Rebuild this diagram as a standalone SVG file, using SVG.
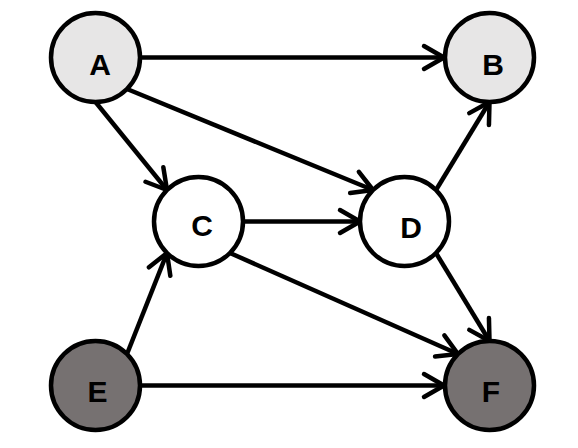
<svg xmlns="http://www.w3.org/2000/svg" width="578" height="448" viewBox="0 0 578 448">
<style>
.node{stroke:#000;stroke-width:4.5}
.light{fill:#e7e6e6}
.white{fill:#fff}
.dark{fill:#767171}
.lbl{font-family:"Liberation Sans",Arial,sans-serif;font-weight:bold;font-size:30px;fill:#000;text-anchor:middle}
.edge{stroke:#000;stroke-width:4.5;fill:none;marker-end:url(#arr)}
</style>
<defs>
<marker id="arr" markerUnits="userSpaceOnUse" viewBox="-26 -16 30 32" refX="0" refY="0" markerWidth="30" markerHeight="32" orient="auto" overflow="visible">
<path d="M-20,-11.5 L0,0 L-20,11.5" fill="none" stroke="#000" stroke-width="4.5" stroke-linecap="round" stroke-linejoin="round"/>
</marker>
</defs>
<g id="connectors">
<line class="edge" x1="140" y1="57.5" x2="444" y2="57.5"/>
<line class="edge" x1="95.5" y1="102" x2="167" y2="190"/>
<line class="edge" x1="127" y1="89" x2="373" y2="190"/>
<line class="edge" x1="243" y1="221.5" x2="360" y2="221.5"/>
<line class="edge" x1="436" y1="190" x2="489.5" y2="102"/>
<line class="edge" x1="127" y1="354" x2="167" y2="253"/>
<line class="edge" x1="140" y1="385.5" x2="444" y2="385.5"/>
<line class="edge" x1="230" y1="253" x2="458" y2="354"/>
<line class="edge" x1="436" y1="253" x2="489.5" y2="341"/>
</g>
<g id="A"><circle class="node light" cx="95.5" cy="57.5" r="44.5"/><text class="lbl" x="100" y="75">A</text></g>
<g id="B"><circle class="node light" cx="489.5" cy="57.5" r="44.5"/><text class="lbl" x="493" y="75">B</text></g>
<g id="C"><circle class="node white" cx="198.5" cy="221.5" r="44.5"/><text class="lbl" x="202" y="236">C</text></g>
<g id="D"><circle class="node white" cx="404.5" cy="221.5" r="44.5"/><text class="lbl" x="411" y="238">D</text></g>
<g id="E"><circle class="node dark" cx="95.5" cy="385.5" r="44.5"/><text class="lbl" x="97.5" y="401.5">E</text></g>
<g id="F"><circle class="node dark" cx="489.5" cy="385.5" r="44.5"/><text class="lbl" x="491" y="401.5">F</text></g>
</svg>
